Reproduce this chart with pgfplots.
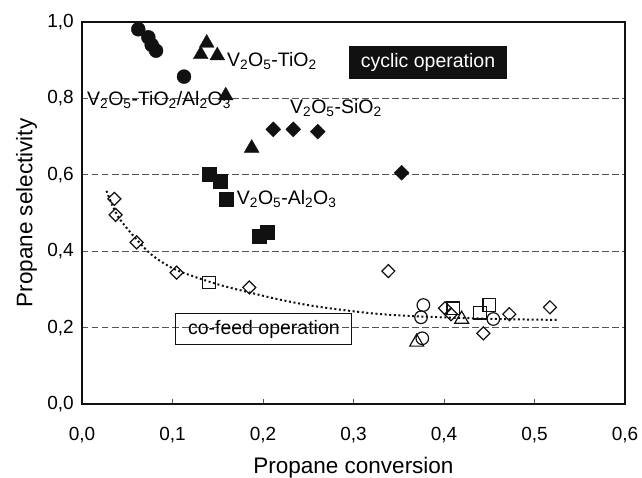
\documentclass[border=0pt]{standalone}
\usepackage{fontspec}
\setmainfont{Liberation Sans}
\usepackage{pgfplots}
\pgfplotsset{compat=1.18}

\definecolor{ink}{HTML}{111111}
\definecolor{gridgray}{HTML}{555555}
\newcommand{\tsub}[1]{\textsubscript{#1}}

\begin{document}
\begin{tikzpicture}
\begin{axis}[
    scale only axis, width=543pt, height=382pt,
    xmin=0, xmax=0.6, ymin=0, ymax=1,
    xtick={0,0.1,0.2,0.3,0.4,0.5,0.6},
    ytick={0,0.2,0.4,0.6,0.8,1},
    axis line style={ink, line width=1.3pt},
    tick style={gridgray, line width=0.9pt},
    xtick align=inside, major tick length=5pt, tick pos=left,
    ytick style={draw=none},
    xticklabel style={font=\fontsize{19}{19}\selectfont, anchor=center, yshift=-31pt},
    yticklabel style={font=\fontsize{19}{19}\selectfont, anchor=east, inner sep=0pt, xshift=-8pt},
    /pgf/number format/.cd, fixed, fixed zerofill, precision=1, use comma, assume math mode=true,
    /pgfplots/.cd,
    ymajorgrids,
    major grid style={gridgray, line width=0.8pt, dash pattern=on 6.5pt off 3.5pt},
    xlabel={Propane conversion},
    ylabel={Propane selectivity},
    xlabel style={font=\fontsize{22.5}{24}\selectfont, at={(axis description cs:0.5,-0.167)}, anchor=center},
    ylabel style={font=\fontsize{22.5}{24}\selectfont, at={(axis description cs:-0.102,0.5)}, anchor=center},
    clip=false]

  % dotted trend line of co-feed data
  \addplot[ink, line width=2pt, dash pattern=on 2pt off 2.6pt, smooth, tension=0.5, mark=none]
    coordinates {(0.027,0.558) (0.040,0.490) (0.064,0.421) (0.080,0.385)
                 (0.105,0.350) (0.149,0.314) (0.185,0.292) (0.219,0.273)
                 (0.260,0.255) (0.322,0.237) (0.375,0.229) (0.450,0.223) (0.526,0.220)};

  % co-feed operation (open symbols)
  \addplot[only marks, ink, mark=diamond, mark size=6.5pt,
           mark options={xscale=1.33, line width=1.2pt, fill=none}]
    coordinates {(0.0357,0.537) (0.0372,0.495) (0.0604,0.423) (0.1046,0.344)
                 (0.1849,0.305) (0.3385,0.348) (0.4011,0.2505) (0.4077,0.235)
                 (0.4722,0.235) (0.4435,0.185) (0.5171,0.253)};
  \addplot[only marks, ink, mark=square, mark size=6.3pt,
           mark options={line width=1.2pt, fill=none}]
    coordinates {(0.1403,0.318) (0.4103,0.2505) (0.4398,0.239) (0.4500,0.259)};
  \addplot[only marks, ink, mark=o, mark size=6.3pt,
           mark options={line width=1.2pt, fill=none}]
    coordinates {(0.3772,0.259) (0.3746,0.227) (0.3760,0.172) (0.4545,0.2225)};
  \addplot[only marks, ink, mark=triangle, mark size=8pt,
           mark options={line width=1.2pt, fill=none}]
    coordinates {(0.3698,0.162) (0.4195,0.222)};

  % cyclic operation (filled symbols)
  \addplot[only marks, ink, mark=*, mark size=7pt, mark options={fill=ink}]
    coordinates {(0.0622,0.981) (0.0733,0.960) (0.0770,0.940) (0.0818,0.925) (0.1127,0.857)};
  \addplot[only marks, ink, mark=triangle*, mark size=8.5pt, mark options={fill=ink}]
    coordinates {(0.1378,0.945) (0.1312,0.915) (0.1495,0.912) (0.1588,0.807) (0.1875,0.670)};
  \addplot[only marks, ink, mark=square*, mark size=7pt, mark options={fill=ink}]
    coordinates {(0.1403,0.602) (0.1525,0.584) (0.1588,0.536) (0.1960,0.440) (0.2050,0.451)};
  \addplot[only marks, ink, mark=diamond*, mark size=7.5pt, mark options={fill=ink, xscale=1.33}]
    coordinates {(0.2114,0.719) (0.2335,0.719) (0.2604,0.713) (0.3532,0.6055)};

  \begin{scope}[font=\fontsize{19.5}{20}\selectfont]
  \node[anchor=west, inner sep=0pt] at (axis cs:0.160,0.898) {V\tsub{2}O\tsub{5}-TiO\tsub{2}};
  \node[anchor=west, inner sep=0pt] at (axis cs:0.0055,0.796) {V\tsub{2}O\tsub{5}-TiO\tsub{2}/Al\tsub{2}O\tsub{3}};
  \node[anchor=west, inner sep=0pt] at (axis cs:0.2298,0.775) {V\tsub{2}O\tsub{5}-SiO\tsub{2}};
  \node[anchor=west, inner sep=0pt] at (axis cs:0.171,0.537) {V\tsub{2}O\tsub{5}-Al\tsub{2}O\tsub{3}};
  \node[fill=ink, text=white, minimum width=158pt, minimum height=33pt, inner sep=0pt]
    at (axis cs:0.3823,0.8935) {cyclic operation};
  \node[draw=ink, line width=0.9pt, minimum width=176pt, minimum height=31pt, inner sep=0pt]
    at (axis cs:0.201,0.196) {co-feed operation};
  \end{scope}

  \coordinate (sw) at (rel axis cs:0,0);
  \coordinate (ne) at (rel axis cs:1,1);
\end{axis}
\pgfresetboundingbox
\path ([shift={(-82pt,-74pt)}]sw) rectangle ([shift={(17pt,22pt)}]ne);
\end{tikzpicture}
\end{document}
